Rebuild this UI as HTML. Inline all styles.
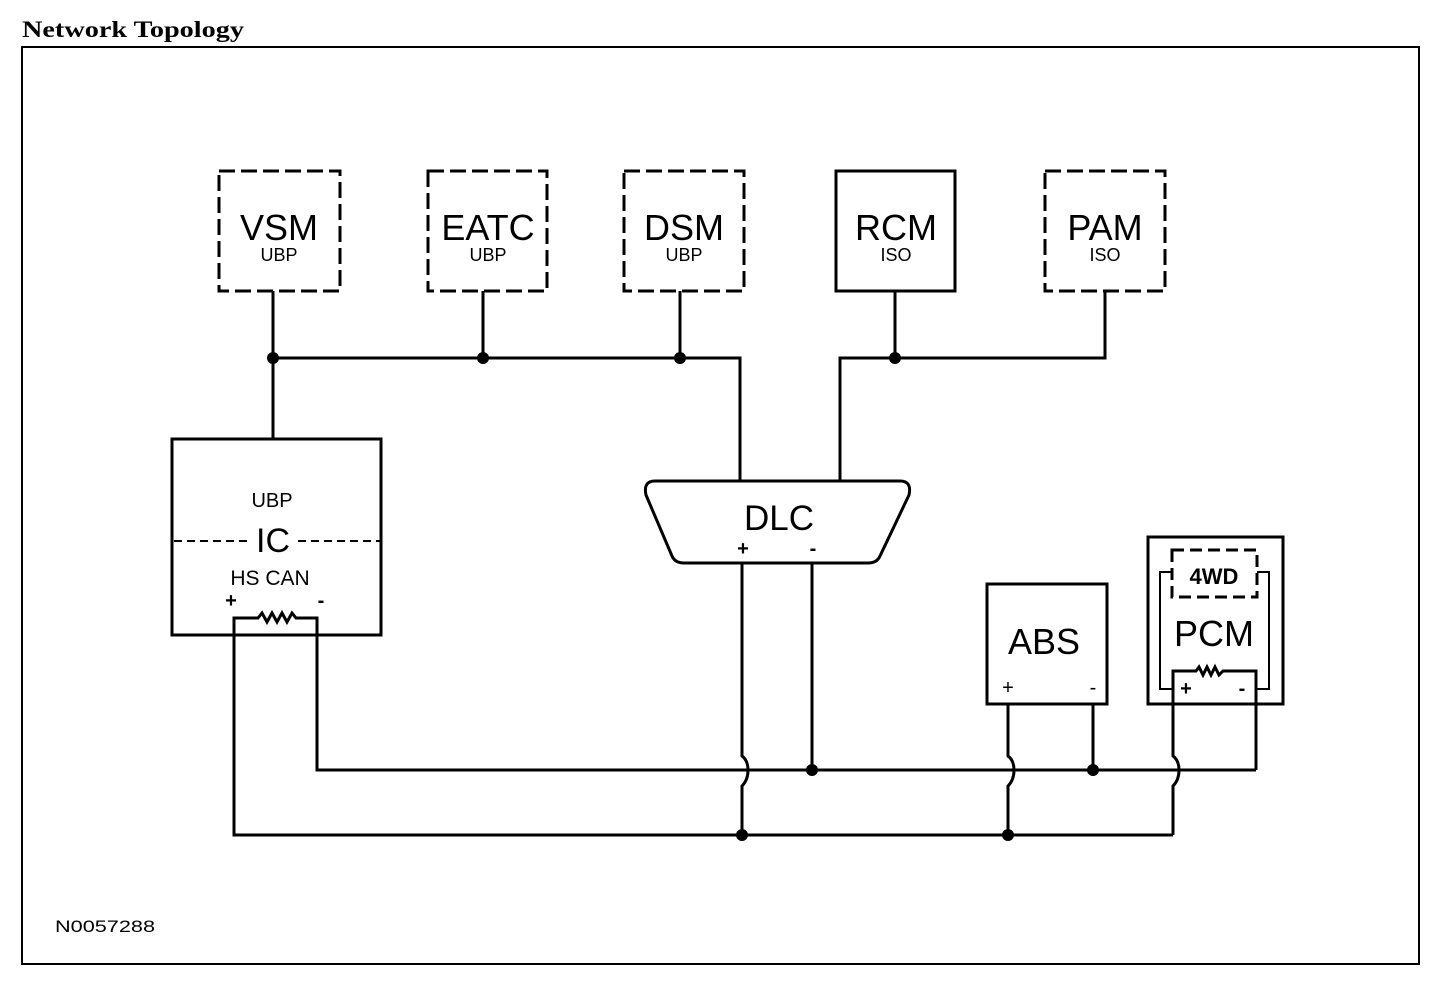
<!DOCTYPE html>
<html><head><meta charset="utf-8"><style>
html,body{margin:0;padding:0;background:#fff;width:1456px;height:992px;overflow:hidden}
svg{display:block}
text{font-family:"Liberation Sans",sans-serif;fill:#000}
</style></head><body>
<svg width="1456" height="992" viewBox="0 0 1456 992" xmlns="http://www.w3.org/2000/svg">
<text x="22" y="37" textLength="222" lengthAdjust="spacingAndGlyphs" style="font-family:'Liberation Serif',serif;font-weight:bold;font-size:23px">Network Topology</text>
<rect x="22" y="47" width="1397" height="917" fill="none" stroke="#000" stroke-width="2"/>
<g fill="none" stroke="#000" stroke-width="3">
 <g stroke-dasharray="16,6">
  <rect x="219" y="171" width="121" height="120"/>
  <rect x="428" y="171" width="119" height="120"/>
  <rect x="624" y="171" width="120" height="120"/>
  <rect x="1045" y="171" width="120" height="120"/>
  <rect x="1172" y="550" width="85" height="47" stroke-dasharray="12,6"/>
 </g>
 <rect x="836" y="171" width="119" height="120"/>
 <rect x="172" y="439" width="209" height="196"/>
 <rect x="987" y="584" width="120" height="120"/>
 <rect x="1148" y="537" width="135" height="167"/>
 <line x1="174" y1="541" x2="252" y2="541" stroke-dasharray="8,5" stroke-width="2"/>
 <line x1="298" y1="541" x2="380" y2="541" stroke-dasharray="8,5" stroke-width="2"/>
 <path d="M273 291V438 M273 358H740V480 M483 291V358 M680 291V358"/>
 <path d="M840 480V358H1105V291 M895 291V358"/>
 <path d="M655 481H900Q912 481 909 495L880 556Q877 563 868 563H684Q675 563 672 556L646 495Q643 481 655 481Z"/>
 <path d="M234 640V618H258l4-5 5 9 5-9 5 9 5-9 5 9 5-9 4 5H317V640"/>
 <path d="M234 640V835H1173 M317 640V770H1256"/>
 <path d="M742 563V756C750 762 750 778 742 786V835 M812 563V770"/>
 <path d="M1008 704V756C1016 762 1016 778 1008 786V835 M1093 704V770"/>
 <path d="M1173 835V786C1181 778 1181 762 1173 756V671H1196l3-4 4 8 4-8 4 8 4-8 4 8 4-4H1256V770" />
 <path d="M1172 572H1160V689H1172 M1257 572H1269V689H1256" stroke-width="2"/>
</g>
<g fill="#000">
 <circle cx="273" cy="358" r="6"/><circle cx="483" cy="358" r="6"/><circle cx="680" cy="358" r="6"/><circle cx="895" cy="358" r="6"/>
 <circle cx="812" cy="770" r="6"/><circle cx="1093" cy="770" r="6"/>
 <circle cx="742" cy="835" r="6"/><circle cx="1008" cy="835" r="6"/>
</g>
<g text-anchor="middle">
 <text x="279" y="240" font-size="36">VSM</text><text x="279" y="261" font-size="18">UBP</text>
 <text x="488" y="240" font-size="36">EATC</text><text x="488" y="261" font-size="18">UBP</text>
 <text x="684" y="240" font-size="36">DSM</text><text x="684" y="261" font-size="18">UBP</text>
 <text x="896" y="240" font-size="36">RCM</text><text x="896" y="261" font-size="18">ISO</text>
 <text x="1105" y="240" font-size="36">PAM</text><text x="1105" y="261" font-size="18">ISO</text>
 <text x="272" y="507" font-size="20">UBP</text>
 <text x="273" y="552" font-size="34">IC</text>
 <text x="270" y="585" font-size="21">HS CAN</text>
 <text x="231" y="607" font-size="20" font-weight="bold">+</text>
 <text x="321" y="607" font-size="20" font-weight="bold">-</text>
 <text x="779" y="530" font-size="35">DLC</text>
 <text x="743" y="555" font-size="20" font-weight="bold">+</text>
 <text x="813" y="555" font-size="20" font-weight="bold">-</text>
 <text x="1044" y="654" font-size="36">ABS</text>
 <text x="1008" y="694" font-size="20">+</text>
 <text x="1093" y="694" font-size="20">-</text>
 <text x="1214" y="584" font-size="22" font-weight="bold">4WD</text>
 <text x="1214" y="646" font-size="36">PCM</text>
 <text x="1186" y="695" font-size="20" font-weight="bold">+</text>
 <text x="1242" y="695" font-size="20" font-weight="bold">-</text>
</g>
<text x="55" y="932" font-size="17" textLength="100" lengthAdjust="spacingAndGlyphs">N0057288</text>
</svg>
</body></html>
